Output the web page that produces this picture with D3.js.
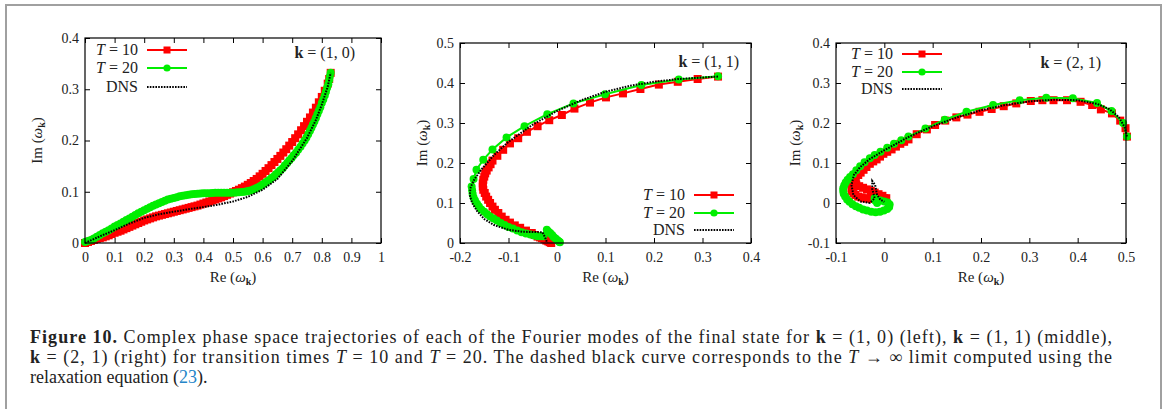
<!DOCTYPE html>
<html lang="en">
<head>
  <meta charset="UTF-8">
  <title>Figure 10</title>
  <style>
    body { margin: 0; background: #fff; }
  </style>
</head>
<body>
  <svg id="mainsvg" width="1168" height="409"></svg>
  <script src="https://cdn.jsdelivr.net/npm/d3@7/dist/d3.min.js"></script>
  <script>
    // ---- data ----
    // k = (1, 0)
    const p1T10Re = [0, 0.01, 0.02, 0.03, 0.04, 0.05, 0.06, 0.07, 0.08, 0.09, 0.1, 0.11, 0.12, 0.13,
      0.14, 0.15, 0.16, 0.17, 0.18, 0.19, 0.2, 0.21, 0.22, 0.23, 0.24, 0.25, 0.26, 0.27, 0.28, 0.29,
      0.3, 0.31, 0.32, 0.33, 0.34, 0.35, 0.36, 0.37, 0.38, 0.39, 0.4, 0.41, 0.42, 0.43, 0.44, 0.45,
      0.46, 0.47, 0.48, 0.49, 0.5, 0.51, 0.52, 0.53, 0.54, 0.55, 0.56, 0.57, 0.58, 0.59, 0.6, 0.61,
      0.62, 0.63, 0.64, 0.65, 0.66, 0.67, 0.68, 0.69, 0.7, 0.71, 0.72, 0.73, 0.74, 0.75, 0.76, 0.77,
      0.78, 0.79, 0.8, 0.81, 0.82, 0.825, 0.83]
    const p1T10Im = [0, 0.002, 0.004, 0.006, 0.008, 0.0095, 0.011, 0.013, 0.015, 0.0175, 0.02, 0.022,
      0.024, 0.0265, 0.029, 0.0315, 0.034, 0.0365, 0.039, 0.0415, 0.044, 0.046, 0.048, 0.05, 0.052,
      0.0535, 0.055, 0.0565, 0.058, 0.0595, 0.061, 0.0625, 0.064, 0.0655, 0.067, 0.0685, 0.07, 0.0715,
      0.073, 0.075, 0.077, 0.079, 0.081, 0.083, 0.085, 0.087, 0.089, 0.0915, 0.094, 0.0965, 0.099,
      0.1015, 0.104, 0.107, 0.11, 0.1135, 0.117, 0.121, 0.125, 0.13, 0.135, 0.1405, 0.146, 0.152,
      0.158, 0.164, 0.17, 0.1765, 0.183, 0.19, 0.197, 0.2045, 0.212, 0.22, 0.228, 0.2365, 0.245,
      0.2545, 0.264, 0.2745, 0.285, 0.297, 0.311, 0.32, 0.332]
    const p1T20Re = [0.83, 0.827, 0.825, 0.822, 0.818, 0.814, 0.81, 0.805, 0.8, 0.795, 0.79, 0.785,
      0.78, 0.775, 0.77, 0.765, 0.76, 0.754, 0.748, 0.742, 0.735, 0.728, 0.72, 0.713, 0.705, 0.698,
      0.69, 0.683, 0.675, 0.668, 0.66, 0.653, 0.645, 0.638, 0.63, 0.623, 0.615, 0.608, 0.6, 0.593,
      0.585, 0.578, 0.57, 0.563, 0.555, 0.548, 0.54, 0.53, 0.52, 0.51, 0.5, 0.49, 0.48, 0.47, 0.46,
      0.45, 0.44, 0.43, 0.42, 0.41, 0.4, 0.39, 0.38, 0.37, 0.36, 0.35, 0.34, 0.33, 0.32, 0.31, 0.3,
      0.29, 0.28, 0.27, 0.26, 0.25, 0.24, 0.23, 0.22, 0.21, 0.2, 0.19, 0.18, 0.17, 0.16, 0.15, 0.14,
      0.13, 0.12, 0.11, 0.1, 0.09, 0.08, 0.07, 0.06, 0.05, 0.04, 0.03, 0.02, 0.01, 0]
    const p1T20Im = [0.332, 0.325, 0.318, 0.31, 0.303, 0.295, 0.288, 0.28, 0.273, 0.265, 0.258, 0.251,
      0.244, 0.237, 0.231, 0.225, 0.219, 0.212, 0.206, 0.2, 0.194, 0.188, 0.182, 0.176, 0.171, 0.166,
      0.161, 0.156, 0.151, 0.146, 0.142, 0.138, 0.134, 0.13, 0.127, 0.123, 0.12, 0.117, 0.114, 0.111,
      0.109, 0.107, 0.105, 0.103, 0.102, 0.101, 0.1, 0.0995, 0.099, 0.0985, 0.098, 0.098, 0.098, 0.098,
      0.098, 0.098, 0.098, 0.0975, 0.097, 0.097, 0.097, 0.0965, 0.096, 0.0955, 0.095, 0.094, 0.093,
      0.092, 0.091, 0.0895, 0.088, 0.0865, 0.085, 0.0825, 0.08, 0.0775, 0.075, 0.0725, 0.07, 0.067,
      0.064, 0.061, 0.058, 0.0545, 0.051, 0.048, 0.045, 0.0415, 0.038, 0.035, 0.032, 0.0285, 0.025,
      0.022, 0.019, 0.0155, 0.012, 0.009, 0.006, 0.004, 0.002]
    const p1DNSRe = [0, 0.05, 0.1, 0.15, 0.2, 0.25, 0.3, 0.35, 0.4, 0.45, 0.5, 0.55, 0.6, 0.65, 0.7,
      0.75, 0.78, 0.8, 0.82, 0.83]
    const p1DNSIm = [0, 0.013, 0.025, 0.038, 0.049, 0.056, 0.061, 0.066, 0.07, 0.075, 0.081, 0.09,
      0.104, 0.125, 0.16, 0.205, 0.24, 0.27, 0.305, 0.332]

    // k = (1, 1)
    const p2T10Re = [0.332, 0.29, 0.249, 0.21, 0.172, 0.136, 0.101, 0.068, 0.036, 0.01, -0.016, -0.04,
      -0.062, -0.08, -0.097, -0.111, -0.123, -0.133, -0.137, -0.141, -0.145, -0.148, -0.15, -0.152,
      -0.153, -0.153, -0.152, -0.149, -0.146, -0.142, -0.138, -0.133, -0.128, -0.121, -0.114, -0.106,
      -0.097, -0.087, -0.076, -0.064, -0.052, -0.046, -0.04, -0.035, -0.031, -0.026, -0.022, -0.018,
      -0.015, -0.012]
    const p2T10Im = [0.416, 0.41, 0.403, 0.396, 0.385, 0.374, 0.364, 0.351, 0.336, 0.32, 0.307, 0.292,
      0.278, 0.262, 0.249, 0.233, 0.218, 0.206, 0.197, 0.189, 0.181, 0.174, 0.166, 0.158, 0.149, 0.141,
      0.133, 0.125, 0.116, 0.108, 0.1, 0.091, 0.083, 0.075, 0.066, 0.058, 0.051, 0.044, 0.038, 0.031,
      0.025, 0.02, 0.016, 0.014, 0.012, 0.009, 0.006, 0.004, 0.002, 0]
    const p2T20Re = [0.332, 0.251, 0.174, 0.099, 0.034, -0.02, -0.067, -0.104, -0.133, -0.152, -0.166,
      -0.172, -0.176, -0.175, -0.174, -0.172, -0.169, -0.165, -0.161, -0.156, -0.15, -0.144, -0.138,
      -0.131, -0.124, -0.116, -0.108, -0.1, -0.091, -0.082, -0.073, -0.064, -0.055, -0.047, -0.04,
      -0.034, -0.028, -0.021, -0.018, -0.014, -0.01, -0.007, -0.003, 0.001, 0.004, 0.006]
    const p2T20Im = [0.417, 0.409, 0.395, 0.372, 0.349, 0.322, 0.292, 0.264, 0.234, 0.208, 0.183, 0.16,
      0.141, 0.132, 0.123, 0.114, 0.106, 0.098, 0.091, 0.084, 0.078, 0.072, 0.066, 0.061, 0.056, 0.05,
      0.045, 0.04, 0.036, 0.031, 0.027, 0.024, 0.021, 0.019, 0.017, 0.017, 0.017, 0.033, 0.029, 0.025,
      0.02, 0.015, 0.011, 0.007, 0.004, 0.002]
    const p2DNSRe = [0.332, 0.25, 0.2, 0.15, 0.1, 0.05, 0, -0.05, -0.1, -0.13, -0.155, -0.17, -0.178,
      -0.18, -0.175, -0.165, -0.15, -0.13, -0.1, -0.07, -0.03, -0.025, -0.02]
    const p2DNSIm = [0.416, 0.41, 0.403, 0.393, 0.378, 0.357, 0.33, 0.296, 0.253, 0.22, 0.185, 0.16,
      0.14, 0.12, 0.1, 0.08, 0.06, 0.045, 0.033, 0.028, 0.027, 0.015, 0]

    // k = (2, 1)
    const p3T10Re = [0.502, 0.499, 0.488, 0.471, 0.448, 0.43, 0.406, 0.378, 0.35, 0.327, 0.303, 0.273,
      0.247, 0.222, 0.197, 0.172, 0.149, 0.126, 0.105, 0.088, 0.067, 0.05, 0.041, 0.033, 0.024, 0.015,
      0.006, -0.002, -0.009, -0.016, -0.023, -0.03, -0.037, -0.043, -0.049, -0.054, -0.059, -0.063,
      -0.066, -0.068, -0.067, -0.064, -0.06, -0.054, -0.047, -0.04, -0.033, -0.026, -0.019, -0.012,
      -0.005, 0.0, 0.004, -0.004, -0.012, -0.02, -0.028, -0.036, -0.044, -0.052, -0.058]
    const p3T10Im = [0.166, 0.187, 0.206, 0.224, 0.234, 0.245, 0.253, 0.257, 0.257, 0.257, 0.255, 0.249,
      0.242, 0.235, 0.228, 0.221, 0.214, 0.206, 0.195, 0.184, 0.172, 0.159, 0.153, 0.148, 0.141, 0.134,
      0.128, 0.123, 0.116, 0.109, 0.104, 0.098, 0.09, 0.083, 0.076, 0.07, 0.062, 0.054, 0.046, 0.037,
      0.03, 0.025, 0.02, 0.016, 0.014, 0.012, 0.011, 0.01, 0.01, 0.011, 0.011, 0.012, 0.012, 0.018,
      0.022, 0.026, 0.03, 0.034, 0.038, 0.042, 0.046]
    const p3T20Re = [0.502, 0.494, 0.47, 0.44, 0.39, 0.335, 0.28, 0.225, 0.17, 0.125, 0.085, 0.05, 0.035,
      0.02, 0.006, -0.008, -0.02, -0.03, -0.041, -0.05, -0.058, -0.065, -0.071, -0.076, -0.08, -0.083,
      -0.085, -0.085, -0.084, -0.081, -0.077, -0.072, -0.066, -0.059, -0.052, -0.044, -0.036, -0.027,
      -0.018, -0.009, -0.001, 0.006, 0.01, 0.011, 0.007, 0, -0.008, -0.015, -0.02, -0.019, -0.015]
    const p3T20Im = [0.166, 0.2, 0.23, 0.25, 0.262, 0.263, 0.257, 0.245, 0.228, 0.208, 0.186, 0.166,
      0.157, 0.148, 0.138, 0.128, 0.12, 0.112, 0.102, 0.092, 0.082, 0.072, 0.065, 0.058, 0.051, 0.044,
      0.037, 0.03, 0.023, 0.016, 0.009, 0.003, -0.003, -0.008, -0.012, -0.016, -0.019, -0.022, -0.023,
      -0.022, -0.019, -0.015, -0.01, -0.004, 0.001, 0.004, 0.006, 0.008, 0.012, 0.006, 0]
    const p3DNSRe = [0.502, 0.497, 0.485, 0.465, 0.44, 0.4, 0.35, 0.3, 0.25, 0.2, 0.15, 0.1, 0.05, 0,
      -0.03, -0.05, -0.063, -0.068, -0.064, -0.05, -0.03, -0.02, -0.025, -0.025, -0.019, -0.015,
      -0.008, 0]
    const p3DNSIm = [0.166, 0.19, 0.215, 0.235, 0.248, 0.257, 0.258, 0.254, 0.245, 0.232, 0.214, 0.192,
      0.165, 0.132, 0.11, 0.09, 0.07, 0.045, 0.02, 0.004, 0, 0.012, 0.035, 0.055, 0.045, 0.02, 0.008,
      0.003]

    // tick values
    const p1XTicks = [0, 0.1, 0.2, 0.3, 0.4, 0.5, 0.6, 0.7, 0.8, 0.9, 1]
    const p1YTicks = [0, 0.1, 0.2, 0.3, 0.4]
    const p2XTicks = [-0.2, -0.1, 0, 0.1, 0.2, 0.3, 0.4]
    const p2YTicks = [0, 0.1, 0.2, 0.3, 0.4, 0.5]
    const p3XTicks = [-0.1, 0, 0.1, 0.2, 0.3, 0.4, 0.5]
    const p3YTicks = [-0.1, 0, 0.1, 0.2, 0.3, 0.4]

    const legendNames = ['10', '20', 'DNS']

    const RED = '#ff0000'
    const GREEN = '#00ee00'
    const FONT = '"Liberation Serif", "DejaVu Serif", serif'

    const zip = (re, im) => re.map((r, i) => [r, im[i]])

    const svg = d3.select('#mainsvg')

    // outer frame (gray, open at the bottom)
    svg.append('path')
      .attr('d', 'M6,409 V5 H1161 V409')
      .attr('fill', 'none')
      .attr('stroke', '#a0a0a0')
      .attr('stroke-width', 2)

    const panels = [
      { left: 85, right: 381, top: 38, bottom: 243, xDom: [0, 1], yDom: [0, 0.4],
        xTicks: p1XTicks, yTicks: p1YTicks,
        t10: zip(p1T10Re, p1T10Im), t20: zip(p1T20Re, p1T20Im), dns: zip(p1DNSRe, p1DNSIm),
        k: '(1, 0)', kX: 355, kY: 58, legX: 138, legY: [50, 68, 87], yTitleX: 37 },
      { left: 460, right: 751, top: 43, bottom: 243, xDom: [-0.2, 0.4], yDom: [0, 0.5],
        xTicks: p2XTicks, yTicks: p2YTicks,
        t10: zip(p2T10Re, p2T10Im), t20: zip(p2T20Re, p2T20Im), dns: zip(p2DNSRe, p2DNSIm),
        k: '(1, 1)', kX: 739, kY: 67, legX: 685, legY: [195, 213, 230], yTitleX: 422 },
      { left: 836, right: 1126, top: 43, bottom: 243, xDom: [-0.1, 0.5], yDom: [-0.1, 0.4],
        xTicks: p3XTicks, yTicks: p3YTicks,
        t10: zip(p3T10Re, p3T10Im), t20: zip(p3T20Re, p3T20Im), dns: zip(p3DNSRe, p3DNSIm),
        k: '(2, 1)', kX: 1101, kY: 68, legX: 893, legY: [54, 72, 89], yTitleX: 795 }
    ]

    const fmt = d => String(+d.toFixed(1))

    function omegaTitle(sel, head) {
      sel.append('tspan').text(head + ' (')
      sel.append('tspan').attr('font-style', 'italic').text('ω')
      sel.append('tspan').attr('font-weight', 'bold').attr('font-size', 10).attr('dy', 3).text('k')
      sel.append('tspan').attr('dy', -3).text(')')
    }

    function drawPanel(p) {
      const x = d3.scaleLinear().domain(p.xDom).range([p.left, p.right])
      const y = d3.scaleLinear().domain(p.yDom).range([p.bottom, p.top])
      const g = svg.append('g')

      // axes with inward ticks on every side
      const axes = [
        [d3.axisBottom(x).tickValues(p.xTicks).tickFormat(fmt), `translate(0,${p.bottom})`, 9],
        [d3.axisTop(x).tickValues(p.xTicks).tickFormat(''), `translate(0,${p.top})`, 0],
        [d3.axisLeft(y).tickValues(p.yTicks).tickFormat(fmt), `translate(${p.left},0)`, 6],
        [d3.axisRight(y).tickValues(p.yTicks).tickFormat(''), `translate(${p.right},0)`, 0]
      ]
      axes.forEach(([ax, tr, pad]) => {
        const a = g.append('g').attr('transform', tr)
          .call(ax.tickSize(-5).tickPadding(pad))
        a.select('.domain').remove()
        a.attr('font-family', FONT).attr('font-size', 14)
        a.selectAll('.tick line').attr('stroke', '#000')
        a.selectAll('.tick text').attr('fill', '#222')
      })

      const line = d3.line().x(d => x(d[0])).y(d => y(d[1]))

      // T = 10
      g.append('path').datum(p.t10).attr('d', line)
        .attr('fill', 'none').attr('stroke', RED).attr('stroke-width', 2)
      g.selectAll(null).data(p.t10).join('rect')
        .attr('x', d => x(d[0]) - 4).attr('y', d => y(d[1]) - 4)
        .attr('width', 8).attr('height', 8).attr('fill', RED)

      // T = 20
      g.append('path').datum(p.t20).attr('d', line)
        .attr('fill', 'none').attr('stroke', GREEN).attr('stroke-width', 2)
      g.selectAll(null).data(p.t20).join('circle')
        .attr('cx', d => x(d[0])).attr('cy', d => y(d[1]))
        .attr('r', 4).attr('fill', GREEN)

      // DNS (relaxation limit)
      g.append('path').datum(p.dns).attr('d', line)
        .attr('fill', 'none').attr('stroke', '#000').attr('stroke-width', 2)
        .attr('stroke-dasharray', '1.6,1.2')

      // frame
      g.append('rect')
        .attr('x', p.left).attr('y', p.top)
        .attr('width', p.right - p.left).attr('height', p.bottom - p.top)
        .attr('fill', 'none').attr('stroke', '#000').attr('stroke-width', 1.2)

      // legend
      legendNames.forEach((name, i) => {
        const ly = p.legY[i]
        const t = g.append('text')
          .attr('x', p.legX).attr('y', ly + 5)
          .attr('text-anchor', 'end')
          .attr('font-family', FONT).attr('font-size', 16).attr('fill', '#222')
        if (name === 'DNS') {
          t.text('DNS')
        } else {
          t.append('tspan').attr('font-style', 'italic').text('T')
          t.append('tspan').text(' = ' + name)
        }
        const x0 = p.legX + 9, x1 = p.legX + 49
        const s = g.append('line')
          .attr('x1', x0).attr('x2', x1).attr('y1', ly).attr('y2', ly)
          .attr('stroke-width', 2)
        if (i === 0) {
          s.attr('stroke', RED)
          g.append('rect').attr('x', (x0 + x1) / 2 - 3.5).attr('y', ly - 3.5)
            .attr('width', 7).attr('height', 7).attr('fill', RED)
        } else if (i === 1) {
          s.attr('stroke', GREEN)
          g.append('circle').attr('cx', (x0 + x1) / 2).attr('cy', ly)
            .attr('r', 3.6).attr('fill', GREEN)
        } else {
          s.attr('stroke', '#000').attr('stroke-dasharray', '1.6,1.2')
        }
      })

      // mode label
      const k = g.append('text')
        .attr('x', p.kX).attr('y', p.kY)
        .attr('text-anchor', 'end')
        .attr('font-family', FONT).attr('font-size', 16).attr('fill', '#222')
      k.append('tspan').attr('font-weight', 'bold').text('k')
      k.append('tspan').text(' = ' + p.k)

      // axis titles
      const xt = g.append('text')
        .attr('x', (p.left + p.right) / 2).attr('y', 282)
        .attr('text-anchor', 'middle')
        .attr('font-family', FONT).attr('font-size', 15).attr('fill', '#222')
      omegaTitle(xt, 'Re')
      const yt = g.append('text')
        .attr('transform', `translate(${p.yTitleX + 5},${(p.top + p.bottom) / 2}) rotate(-90)`)
        .attr('text-anchor', 'middle')
        .attr('font-family', FONT).attr('font-size', 15).attr('fill', '#222')
      omegaTitle(yt, 'Im')
    }

    panels.forEach(drawPanel)

    // caption
    const CAP = '"Liberation Serif", serif'
    const cap1 = svg.append('text').attr('x', 30).attr('y', 343)
      .attr('font-family', CAP).attr('font-size', 18).attr('fill', '#222')
      .attr('textLength', 1082).attr('lengthAdjust', 'spacing')
    cap1.append('tspan').attr('font-weight', 'bold').text('Figure 10.')
    cap1.append('tspan').text(' Complex phase space trajectories of each of the Fourier modes of the final state for ')
    cap1.append('tspan').attr('font-weight', 'bold').text('k')
    cap1.append('tspan').text(' = (1, 0) (left), ')
    cap1.append('tspan').attr('font-weight', 'bold').text('k')
    cap1.append('tspan').text(' = (1, 1) (middle),')

    const cap2 = svg.append('text').attr('x', 30).attr('y', 363)
      .attr('font-family', CAP).attr('font-size', 18).attr('fill', '#222')
      .attr('textLength', 1082).attr('lengthAdjust', 'spacing')
    cap2.append('tspan').attr('font-weight', 'bold').text('k')
    cap2.append('tspan').text(' = (2, 1) (right) for transition times ')
    cap2.append('tspan').attr('font-style', 'italic').text('T')
    cap2.append('tspan').text(' = 10 and ')
    cap2.append('tspan').attr('font-style', 'italic').text('T')
    cap2.append('tspan').text(' = 20. The dashed black curve corresponds to the ')
    cap2.append('tspan').attr('font-style', 'italic').text('T')
    cap2.append('tspan').text(' → ∞ limit computed using the')

    const cap3 = svg.append('text').attr('x', 30).attr('y', 383)
      .attr('font-family', CAP).attr('font-size', 18).attr('fill', '#222')
    cap3.append('tspan').text('relaxation equation (')
    cap3.append('tspan').attr('fill', '#2585c8').text('23')
    cap3.append('tspan').text(').')
  </script>
</body>
</html>
